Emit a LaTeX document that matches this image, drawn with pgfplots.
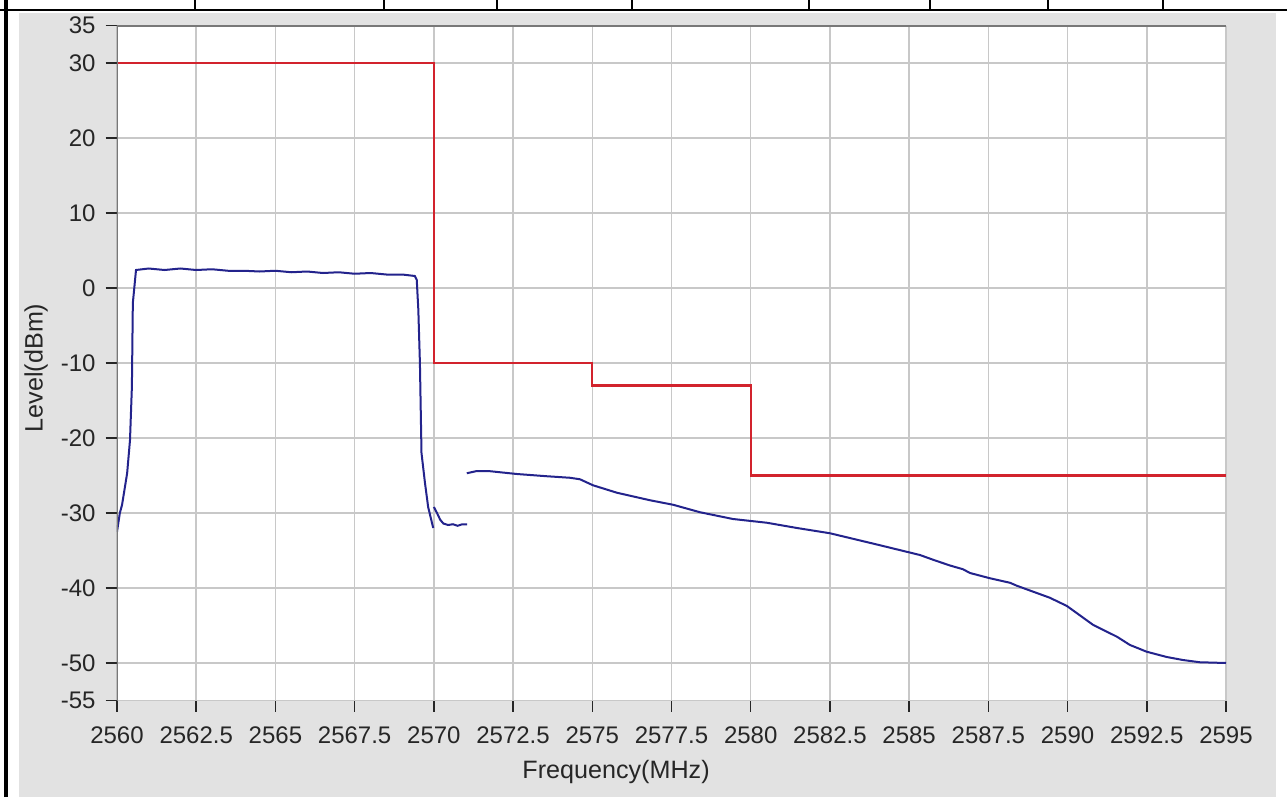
\documentclass[border=0pt]{standalone}
\usepackage{fontspec}
\setmainfont{Liberation Sans}
\usepackage{pgfplots}
\pgfplotsset{compat=1.18}

\definecolor{limitred}{RGB}{210,35,45}
\definecolor{tracenavy}{RGB}{35,35,140}
\definecolor{panelgray}{RGB}{226,226,226}
\definecolor{gridgray}{RGB}{200,200,200}
\definecolor{framegray}{RGB}{120,120,120}

\begin{document}
\begin{tikzpicture}
\useasboundingbox (-40.95pt,-33.775pt) rectangle (409.5pt,245.175pt);
\fill[white] (-40.95pt,-33.775pt) rectangle (409.5pt,245.175pt);
\fill[panelgray] (-34.3pt,-33.775pt) rectangle (405.65pt,240.6pt);
% table row above the screenshot
\draw[line width=0.8pt] (-40.95pt,241.7pt) -- (409.5pt,241.7pt);
\draw[line width=1.1pt] (-38.85pt,-33.775pt) -- (-38.85pt,245.175pt);
\foreach \x in {27.3,93.45,133,180.25,242.2,284.55,325.85,366.1}
  \draw[line width=0.5pt] (\x pt,241.7pt) -- (\x pt,245.175pt);

\begin{axis}[
  at={(0,0)}, anchor=south west,
  scale only axis, width=388.15pt, height=236.25pt,
  xmin=2560, xmax=2595, ymin=-55, ymax=35,
  axis background/.style={fill=white},
  axis line style={draw=none},
  xtick={2560,2562.5,2565,2567.5,2570,2572.5,2575,2577.5,2580,2582.5,2585,2587.5,2590,2592.5,2595},
  xticklabels={2560,2562.5,2565,2567.5,2570,2572.5,2575,2577.5,2580,2582.5,2585,2587.5,2590,2592.5,2595},
  ytick={-55,-50,-40,-30,-20,-10,0,10,20,30,35},
  yticklabels={-55,-50,-40,-30,-20,-10,0,10,20,30,35},
  xtick pos=lower, ytick pos=left,
  tick align=outside, major tick length=4pt,
  tick style={black!85, line width=0.5pt},
  grid=major,
  grid style={gridgray, line width=0.5pt},
  ticklabel style={font=\fontsize{8.4}{10}\selectfont, text=black!85},
  xticklabel style={yshift=-1.8pt},
  label style={font=\fontsize{8.8}{10}\selectfont, text=black!85},
  xlabel={Frequency(MHz)},
  ylabel={Level(dBm)},
  xlabel style={at={(axis description cs:0.45,-0.1057)}, anchor=center},
  ylabel style={at={(axis description cs:-0.073,0.4927)}, anchor=center, rotate=0},
]
% measured trace, in-band sweep
\addplot[tracenavy, line width=0.7pt] coordinates {
  (2560,-32.5) (2560.09,-30) (2560.16,-28.9) (2560.32,-24.7) (2560.41,-20.3)
  (2560.47,-13.2) (2560.5,-2) (2560.6,2.4) (2561,2.6) (2561.5,2.4) (2562,2.6)
  (2562.5,2.4) (2563,2.5) (2563.5,2.3) (2564,2.3) (2564.5,2.2) (2565,2.3)
  (2565.5,2.1) (2566,2.2) (2566.5,2.0) (2567,2.1) (2567.5,1.9) (2568,2.0)
  (2568.5,1.8) (2569,1.8) (2569.4,1.6) (2569.46,1.1) (2569.51,-2.9)
  (2569.56,-10) (2569.61,-22) (2569.72,-26) (2569.82,-29.2) (2569.98,-32)
};
\addplot[tracenavy, line width=0.7pt] coordinates {
  (2570.0,-29.2) (2570.1,-30.0) (2570.2,-30.9) (2570.3,-31.4) (2570.45,-31.6)
  (2570.6,-31.5) (2570.75,-31.7) (2570.9,-31.5) (2571.05,-31.5)
};
% measured trace, out-of-band sweep
\addplot[tracenavy, line width=0.7pt] coordinates {
  (2571.04,-24.7) (2571.36,-24.4) (2571.71,-24.4) (2572.62,-24.8) (2573.57,-25.1)
  (2574.29,-25.3) (2574.61,-25.5) (2575.02,-26.3) (2575.78,-27.3) (2576.82,-28.3)
  (2577.55,-28.9) (2578.4,-29.9) (2579.44,-30.8) (2580.51,-31.3) (2581.46,-32)
  (2582.5,-32.7) (2584.08,-34.3) (2585.34,-35.6) (2585.8,-36.3) (2586.29,-37.0)
  (2586.7,-37.5) (2586.92,-38) (2587.55,-38.7) (2588.18,-39.3) (2588.4,-39.7)
  (2589.44,-41.3) (2589.98,-42.4) (2590.8,-44.9) (2591.56,-46.5) (2591.97,-47.6)
  (2592.5,-48.5) (2593.13,-49.2) (2593.64,-49.6) (2594.17,-49.9) (2595,-50)
};
% emission limit mask
\addplot[limitred, line width=0.75pt] coordinates {
  (2560,30) (2570,30) (2570,-10) (2575,-10) (2575,-13) (2580,-13) (2580,-25) (2595,-25)
};
\draw[framegray, line width=0.7pt] (rel axis cs:0,0) -- (rel axis cs:0,1) -- (rel axis cs:1,1);
\end{axis}
\end{tikzpicture}
\end{document}
